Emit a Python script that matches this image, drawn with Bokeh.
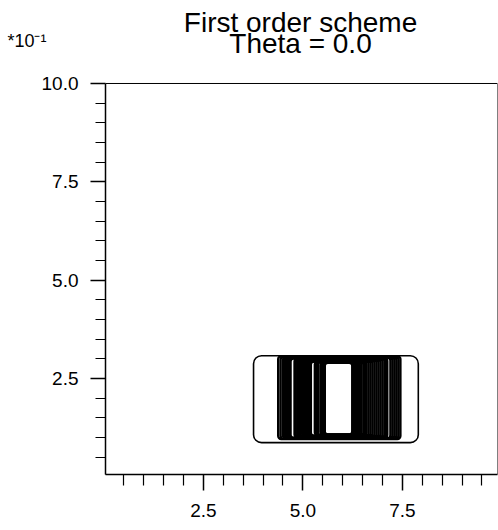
from bokeh.plotting import figure
from bokeh.models import FixedTicker, Label, Range1d, LinearAxis, BoxAnnotation
from bokeh.embed import file_html
from bokeh.resources import INLINE

# ---- texts ----
title_lines = ["First order scheme", "Theta = 0.0"]
scale_label = "*10\u207b\u00b9"

# ---- ticks ----
x_major = [2.5, 5.0, 7.5]
x_major_labels = ["2.5", "5.0", "7.5"]
y_major = [2.5, 5.0, 7.5, 10.0]
y_major_labels = ["2.5", "5.0", "7.5", "10.0"]
minor_ticks = [0.5, 1.0, 1.5, 2.0, 3.0, 3.5, 4.0, 4.5, 5.5, 6.0, 6.5, 7.0,
               8.0, 8.5, 9.0, 9.5]

# ---- contours (units of 1e-1) ----
outer_left = [3.76]
outer_right = [7.90]
outer_bottom = [0.87]
outer_top = [3.08]

inner_left = [4.38, 4.44, 4.50, 4.54, 4.57, 4.61, 4.65, 4.69, 4.79, 4.82, 4.86,
              4.90, 4.94, 4.98, 5.01, 5.05, 5.09, 5.13, 5.16, 5.20, 5.30, 5.34,
              5.38, 5.44, 5.48, 5.52, 5.55]
inner_right = [7.45, 7.40, 7.35, 7.30, 7.25, 7.20, 7.12, 7.09, 7.05, 7.00, 6.95,
               6.90, 6.85, 6.80, 6.75, 6.70, 6.65, 6.60, 6.56, 6.52, 6.47, 6.43,
               6.39, 6.36, 6.32, 6.28, 6.24]
inner_top = [3.07, 3.06, 3.05, 3.04, 3.04, 3.03, 3.02, 3.01, 3.01, 3.0,
             2.99, 2.98, 2.98, 2.97, 2.96, 2.96, 2.95, 2.94, 2.94, 2.93,
             2.93, 2.92, 2.92, 2.91, 2.91, 2.90, 2.90]
inner_bottom = [0.96, 0.965, 0.97, 0.975, 0.98, 0.985, 0.99, 0.995, 1.0, 1.0,
                1.005, 1.01, 1.015, 1.02, 1.025, 1.03, 1.035, 1.04, 1.04, 1.045,
                1.05, 1.055, 1.06, 1.065, 1.07, 1.075, 1.08]

FONT = "Liberation Sans"
Y_PLOT_TOP = 10.0

# frame reaches the top of the canvas; the plotted box ends at y = 10
p = figure(width=498, height=530, output_backend="svg", toolbar_location=None,
           x_range=Range1d(0.04, 9.89), y_range=Range1d(0.06, 12.11),
           min_border_left=105, min_border_top=0, min_border_right=1,
           min_border_bottom=56, title=None)
p.background_fill_color = "white"
p.border_fill_color = "white"
p.outline_line_color = None
p.grid.visible = False

p.add_layout(BoxAnnotation(top=Y_PLOT_TOP, fill_color=None, fill_alpha=0,
                           line_color="black", line_alpha=1, line_width=1))

# contours
p.quad(left=outer_left, right=outer_right, bottom=outer_bottom, top=outer_top,
       fill_color=None, line_color="black", line_width=1.6, border_radius=8)
p.quad(left=inner_left, right=inner_right, bottom=inner_bottom, top=inner_top,
       fill_color=None, line_color="black", line_width=2.4, border_radius=3)

# axes
p.yaxis.bounds = (0.06, Y_PLOT_TOP)
for ax, ticks, labels, mj, mn, so in ((p.xaxis, x_major, x_major_labels, 16, 11, 13),
                                      (p.yaxis, y_major, y_major_labels, 15, 10, 12)):
    ax.ticker = FixedTicker(ticks=ticks, minor_ticks=minor_ticks)
    ax.major_label_overrides = {t: l for t, l in zip(ticks, labels)}
    ax.axis_line_color = "black"
    ax.axis_line_width = 1.5
    ax.major_tick_line_color = "black"
    ax.major_tick_line_width = 1.5
    ax.minor_tick_line_color = "black"
    ax.minor_tick_line_width = 1.2
    ax.major_tick_out = mj
    ax.major_tick_in = 0
    ax.minor_tick_out = mn
    ax.minor_tick_in = 0
    ax.major_label_text_font = FONT
    ax.major_label_text_font_size = "19px"
    ax.major_label_text_color = "black"
    ax.major_label_standoff = so
p.yaxis.major_label_orientation = "horizontal"

# scale factor shown as the single label of a bare second axis
SCALE_POS = 11.09
sax = LinearAxis(ticker=FixedTicker(ticks=[SCALE_POS], minor_ticks=[]),
                 major_label_overrides={SCALE_POS: scale_label},
                 axis_line_color=None, major_tick_line_color=None,
                 minor_tick_line_color=None, major_tick_out=0, major_tick_in=0,
                 minor_tick_out=0, minor_tick_in=0, major_label_standoff=-8,
                 major_label_text_font=FONT, major_label_text_font_size="18px",
                 major_label_text_color="black")
p.add_layout(sax, "left")

# title lines
for txt, yv in zip(title_lines, (11.55, 11.02)):
    p.add_layout(Label(x=4.94, y=yv, text=txt, text_font=FONT, text_font_size="28px",
                       text_align="center", text_baseline="alphabetic",
                       text_color="black"))

open("out.html", "w").write(file_html(p, INLINE))
